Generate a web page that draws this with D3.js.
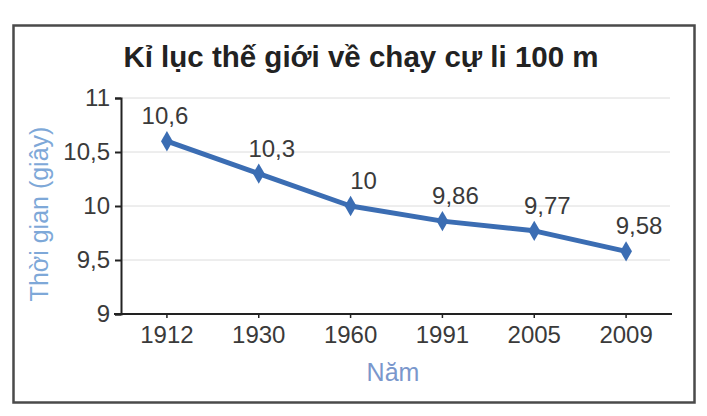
<!DOCTYPE html>
<html>
<head>
<meta charset="utf-8">
<script src="https://cdn.jsdelivr.net/npm/d3@7"></script>
<style>
  html, body { margin: 0; padding: 0; background: #fff; }
  svg { display: block; }
  text { font-family: "Liberation Sans", Arial, sans-serif; }
</style>
</head>
<body>
<svg id="chart" width="707" height="416"></svg>
<script>
const years = ["1912", "1930", "1960", "1991", "2005", "2009"];
const times = [10.6, 10.3, 10, 9.86, 9.77, 9.58];
const valueLabels = ["10,6", "10,3", "10", "9,86", "9,77", "9,58"];
const yTicks = [9, 9.5, 10, 10.5, 11];
const yTickLabels = ["9", "9,5", "10", "10,5", "11"];
const title = "Kỉ lục thế giới về chạy cự li 100 m";
const xTitle = "Năm";
const yTitle = "Thời gian (giây)";

const svg = d3.select("#chart");

// frame
svg.append("rect")
  .attr("x", 13.5).attr("y", 25.5)
  .attr("width", 681).attr("height", 377)
  .attr("fill", "#fff")
  .attr("stroke", "#4a4a4a")
  .attr("stroke-width", 2.5);

const plotL = 121, plotR = 672, plotT = 98, plotB = 314;

const x = d3.scaleBand().domain(years).range([plotL, plotR]).padding(0);
const y = d3.scaleLinear().domain([9, 11]).range([plotB, plotT]);

// gridlines
svg.append("g")
  .selectAll("line")
  .data(yTicks.filter(d => d !== 9))
  .join("line")
  .attr("x1", plotL).attr("x2", 670)
  .attr("y1", d => y(d)).attr("y2", d => y(d))
  .attr("stroke", "#dcdcdc")
  .attr("stroke-width", 1);

// y axis
const yAxis = d3.axisLeft(y)
  .tickValues(yTicks)
  .tickFormat((d, i) => yTickLabels[i])
  .tickSize(6)
  .tickPadding(5);
const gy = svg.append("g")
  .attr("transform", `translate(${plotL},0)`)
  .call(yAxis);
gy.select(".domain").attr("stroke", "#222").attr("stroke-width", 2);
gy.selectAll(".tick line").attr("stroke", "#222").attr("stroke-width", 2);
gy.selectAll(".tick text")
  .attr("fill", "#3a3a3a")
  .style("font-size", "24px");

// x axis
const xAxis = d3.axisBottom(x)
  .tickSize(4)
  .tickSizeOuter(0)
  .tickPadding(8);
const gx = svg.append("g")
  .attr("transform", `translate(0,${plotB})`)
  .call(xAxis);
gx.select(".domain").attr("stroke", "#222").attr("stroke-width", 2)
  .attr("d", `M${plotL - 7},0H${plotR}`);
gx.selectAll(".tick line").attr("stroke", "#222").attr("stroke-width", 1.5);
gx.selectAll(".tick text")
  .attr("fill", "#3a3a3a")
  .style("font-size", "24px");

// line
const pts = years.map((yr, i) => ({ yr, v: times[i], lab: valueLabels[i], i }));
const cx = d => x(d.yr) + x.bandwidth() / 2;

svg.append("path")
  .datum(pts)
  .attr("fill", "none")
  .attr("stroke", "#3b6db3")
  .attr("stroke-width", 5)
  .attr("stroke-linejoin", "round")
  .attr("d", d3.line().x(cx).y(d => y(d.v)));

svg.append("g")
  .selectAll("path")
  .data(pts)
  .join("path")
  .attr("transform", d => `translate(${cx(d)},${y(d.v)})`)
  .attr("d", d3.symbol().type(d3.symbolDiamond).size(120))
  .attr("fill", "#3b6db3");

// value labels (first sits over its point, the rest slightly to the right)
svg.append("g")
  .selectAll("text")
  .data(pts)
  .join("text")
  .attr("x", d => cx(d) + (d.i === 0 ? -2 : 13))
  .attr("y", d => y(d.v) - 17)
  .attr("text-anchor", "middle")
  .attr("fill", "#3a3a3a")
  .style("font-size", "24px")
  .text(d => d.lab);

// title
svg.append("text")
  .attr("x", 361).attr("y", 67)
  .attr("text-anchor", "middle")
  .attr("fill", "#222")
  .style("font-size", "29.5px")
  .style("font-weight", "bold")
  .text(title);

// axis titles
svg.append("text")
  .attr("x", 393).attr("y", 381)
  .attr("text-anchor", "middle")
  .attr("fill", "#7a97cc")
  .style("font-size", "25px")
  .text(xTitle);

svg.append("text")
  .attr("transform", `translate(48,214) rotate(-90)`)
  .attr("text-anchor", "middle")
  .attr("fill", "#7ea8d8")
  .style("font-size", "25px")
  .text(yTitle);
</script>
</body>
</html>
